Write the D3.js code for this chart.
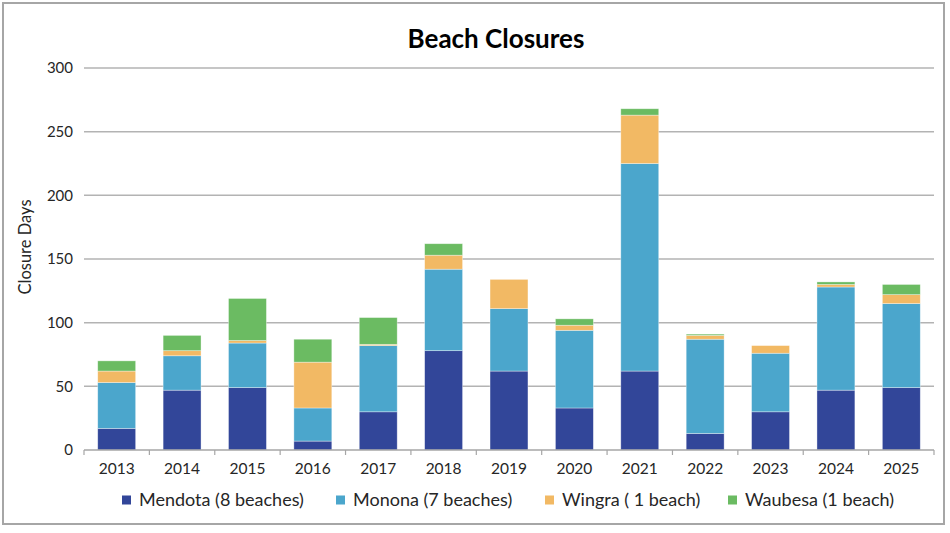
<!DOCTYPE html>
<html><head><meta charset="utf-8">
<script src="https://cdn.jsdelivr.net/npm/d3@7"></script>
<style>body{margin:0;background:#fff;}svg{display:block;font-family:Lato,"Open Sans",sans-serif;}</style>
</head><body>
<svg id="c" width="950" height="533"></svg>
<script>
const years = ["2013","2014","2015","2016","2017","2018","2019","2020","2021","2022","2023","2024","2025"];
const mendota = [17,47,49,7,30,78,62,33,62,13,30,47,49];
const monona  = [36,27,35,26,52,64,49,61,163,74,46,81,66];
const wingra  = [9,4,2,36,1,11,23,4,38,3,6,2,7];
const waubesa = [8,12,33,18,21,9,0,5,5,1,0,2,8];
const seriesNames = ["Mendota (8 beaches)","Monona (7 beaches)","Wingra ( 1 beach)","Waubesa (1 beach)"];
const colors = ["#324699","#4BA6CC","#F2B964","#6BBB62"];
const yTicks = [0,50,100,150,200,250,300];

(function(){
const svg = d3.select("#c");
svg.append("rect").attr("x",3).attr("y",3).attr("width",941).attr("height",521)
  .attr("fill","#fff").attr("stroke","#a6a6a6").attr("stroke-width",2);

const pL=84, pR=934, pT=68, pB=450;
const x = d3.scaleBand().domain(years).range([pL,pR]).paddingInner(0.42).paddingOuter(0.21);
const y = d3.scaleLinear().domain([0,300]).range([pB,pT]);

svg.append("g").selectAll("line").data(yTicks.slice(1)).join("line")
  .attr("x1",pL).attr("x2",pR).attr("y1",d=>y(d)).attr("y2",d=>y(d))
  .attr("stroke","#b3b3b3").attr("stroke-width",1.5);

svg.append("g").selectAll("text").data(yTicks).join("text")
  .attr("x",73).attr("y",d=>y(d)).attr("dy","0.35em").attr("text-anchor","end")
  .attr("font-size",15).attr("fill","#262626").text(d=>d);

const rows = years.map((yr,i)=>({year:yr,s0:mendota[i],s1:monona[i],s2:wingra[i],s3:waubesa[i]}));
const stack = d3.stack().keys(["s0","s1","s2","s3"])(rows);
svg.append("g").selectAll("g").data(stack).join("g").attr("fill",(d,i)=>colors[i])
  .selectAll("rect").data(d=>d.filter(p=>p[1]-p[0]>0)).join("rect")
  .attr("x",d=>x(d.data.year)).attr("width",x.bandwidth())
  .attr("y",d=>y(d[1])).attr("height",d=>y(d[0])-y(d[1]))
  .attr("stroke","#fff").attr("stroke-opacity",0.5).attr("stroke-width",0.7);

const xa = svg.append("g");
xa.append("line").attr("x1",pL).attr("x2",pR).attr("y1",pB).attr("y2",pB)
  .attr("stroke","#a6a6a6").attr("stroke-width",1.5);
const bounds = d3.range(years.length+1).map(i=>pL+i*(pR-pL)/years.length);
xa.selectAll("line.t").data(bounds).join("line").attr("class","t")
  .attr("x1",d=>d).attr("x2",d=>d).attr("y1",pB).attr("y2",pB+5)
  .attr("stroke","#a6a6a6").attr("stroke-width",1.2);
xa.selectAll("text").data(years).join("text")
  .attr("x",d=>x(d)+x.bandwidth()/2).attr("y",474).attr("text-anchor","middle")
  .attr("font-size",15.5).attr("fill","#262626").text(d=>d);

svg.append("text").attr("x",496).attr("y",48).attr("text-anchor","middle")
  .attr("font-size",26).attr("font-weight","bold").attr("fill","#000").text("Beach Closures");

svg.append("text").attr("transform","translate(31,247) rotate(-90)").attr("text-anchor","middle")
  .attr("font-size",16.5).attr("fill","#262626").text("Closure Days");

const lx = [122,336,545,728];
const lg = svg.append("g").selectAll("g").data(seriesNames).join("g")
  .attr("transform",(d,i)=>`translate(${lx[i]},500)`);
lg.append("rect").attr("x",0).attr("y",-4.5).attr("width",9).attr("height",9).attr("fill",(d,i)=>colors[i]);
lg.append("text").attr("x",17).attr("y",0).attr("dy","0.35em").attr("font-size",18)
  .attr("fill","#262626").text(d=>d);
})();
</script>
</body></html>
